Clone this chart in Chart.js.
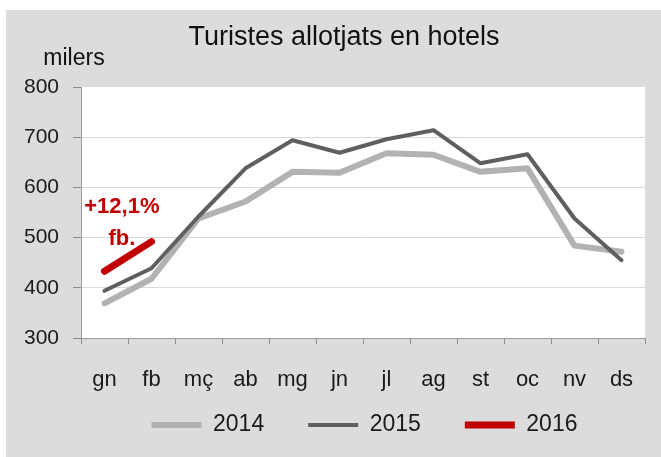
<!DOCTYPE html>
<html>
<head>
<meta charset="utf-8">
<script src="https://cdn.jsdelivr.net/npm/chart.js@4"></script>
<style>
  body { margin: 0; background: #fff; }
  canvas { display: block; }
</style>
</head>
<body>
<canvas id="grafic" width="661" height="457"></canvas>
<script>
// dades (milers de turistes)
const mesos = ["gn", "fb", "mç", "ab", "mg", "jn", "jl", "ag", "st", "oc", "nv", "ds"];
const anys = ["2014", "2015", "2016"];
const dades2014 = [369, 418, 538, 572, 631, 629, 668, 665, 631, 638, 484, 472];
const dades2015 = [394, 439, 542, 638, 694, 669, 696, 714, 648, 666, 538, 455];
const dades2016 = [433, 492, null, null, null, null, null, null, null, null, null, null];
const ticksY = [300, 400, 500, 600, 700, 800];

const titol = "Turistes allotjats en hotels";
const unitat = "milers";
const variacio = "+12,1%";
const mesVariacio = "fb.";

const FONT = '"Liberation Sans", Arial, sans-serif';

// fons gris, area blanca, titol i anotacions
const fons = {
  id: "fons",
  beforeDraw(chart) {
    const ctx = chart.ctx;
    const a = chart.chartArea;
    ctx.save();
    ctx.fillStyle = "#ffffff";
    ctx.fillRect(0, 0, chart.width, chart.height);
    ctx.fillStyle = "#dcdcdc";
    ctx.fillRect(6, 10, chart.width - 6, chart.height - 10);
    ctx.fillStyle = "#ffffff";
    ctx.fillRect(a.left, a.top, a.right - a.left, a.bottom - a.top);

    ctx.fillStyle = "#111111";
    ctx.textBaseline = "alphabetic";
    ctx.textAlign = "center";
    ctx.font = "27px " + FONT;
    ctx.fillText(titol, 344, 45);
    ctx.font = "23px " + FONT;
    ctx.fillText(unitat, 74, 65);
    ctx.restore();
  },
  afterLayout(chart) {
    // col·loca la llegenda com a l'original
    const lg = chart.legend;
    lg.left += 42;
    lg.right += 42;
    lg.top = chart.chartArea.bottom + 31.5;
    lg.bottom = chart.height;
    lg.height = lg.bottom - lg.top;
  },
  afterDatasetsDraw(chart) {
    const ctx = chart.ctx;
    const xS = chart.scales.x;
    const yS = chart.scales.y;
    const p0 = xS.getPixelForValue(0);
    const p1 = xS.getPixelForValue(1);
    const xc = p0 + (p1 - p0) * 0.37;
    ctx.save();
    ctx.fillStyle = "#c00000";
    ctx.font = "bold 22px " + FONT;
    ctx.textAlign = "center";
    ctx.textBaseline = "middle";
    ctx.fillText(variacio, xc, yS.getPixelForValue(561));
    ctx.fillText(mesVariacio, xc, yS.getPixelForValue(497));
    ctx.restore();
  }
};

const ctx = document.getElementById("grafic").getContext("2d");

new Chart(ctx, {
  type: "line",
  data: {
    labels: mesos,
    datasets: [
      {
        label: anys[0],
        data: dades2014,
        borderColor: "#b2b2b2",
        backgroundColor: "#b2b2b2",
        borderWidth: 6,
        borderCapStyle: "round",
        order: 3
      },
      {
        label: anys[1],
        data: dades2015,
        borderColor: "#5f5f5f",
        backgroundColor: "#5f5f5f",
        borderWidth: 4,
        borderCapStyle: "round",
        order: 2
      },
      {
        label: anys[2],
        data: dades2016,
        borderColor: "#c00000",
        backgroundColor: "#c00000",
        borderWidth: 7,
        borderCapStyle: "round",
        order: 1
      }
    ]
  },
  options: {
    responsive: false,
    animation: false,
    devicePixelRatio: 1,
    elements: {
      point: { radius: 0, hoverRadius: 0 },
      line: { tension: 0, borderCapStyle: "round", borderJoinStyle: "round", fill: false }
    },
    layout: {
      padding: { left: 0, right: 16, top: 87, bottom: 0 }
    },
    plugins: {
      title: { display: false },
      tooltip: { enabled: false },
      legend: {
        display: true,
        position: "bottom",
        align: "center",
        maxHeight: 59,
        labels: {
          usePointStyle: true,
          pointStyle: "line",
          pointStyleWidth: 50,
          boxWidth: 50,
          padding: 44,
          color: "#1a1a1a",
          font: { family: FONT, size: 23 },
          sort: (a, b) => a.datasetIndex - b.datasetIndex
        }
      }
    },
    scales: {
      x: {
        offset: true,
        afterFit(scale) { scale.height = 60; },
        grid: {
          offset: true,
          drawOnChartArea: false,
          drawTicks: true,
          tickLength: 6,
          tickColor: "#8c8c8c"
        },
        border: { color: "#9a9a9a", width: 1 },
        ticks: {
          padding: 23,
          color: "#1a1a1a",
          maxRotation: 0,
          autoSkip: false,
          font: { family: FONT, size: 22 }
        }
      },
      y: {
        min: ticksY[0],
        max: ticksY[ticksY.length - 1],
        afterFit(scale) { scale.width = 81; },
        afterBuildTicks(scale) { scale.ticks = ticksY.map(v => ({ value: v })); },
        grid: {
          color: c => (c.tick && c.tick.value === 800) ? "rgba(0,0,0,0)" : "#d9d9d9",
          lineWidth: 1,
          tickLength: 8,
          tickColor: "#8c8c8c"
        },
        border: { color: "#9a9a9a", width: 1 },
        ticks: {
          padding: 14,
          color: "#1a1a1a",
          font: { family: FONT, size: 21 }
        }
      }
    }
  },
  plugins: [fons]
});
</script>
</body>
</html>
